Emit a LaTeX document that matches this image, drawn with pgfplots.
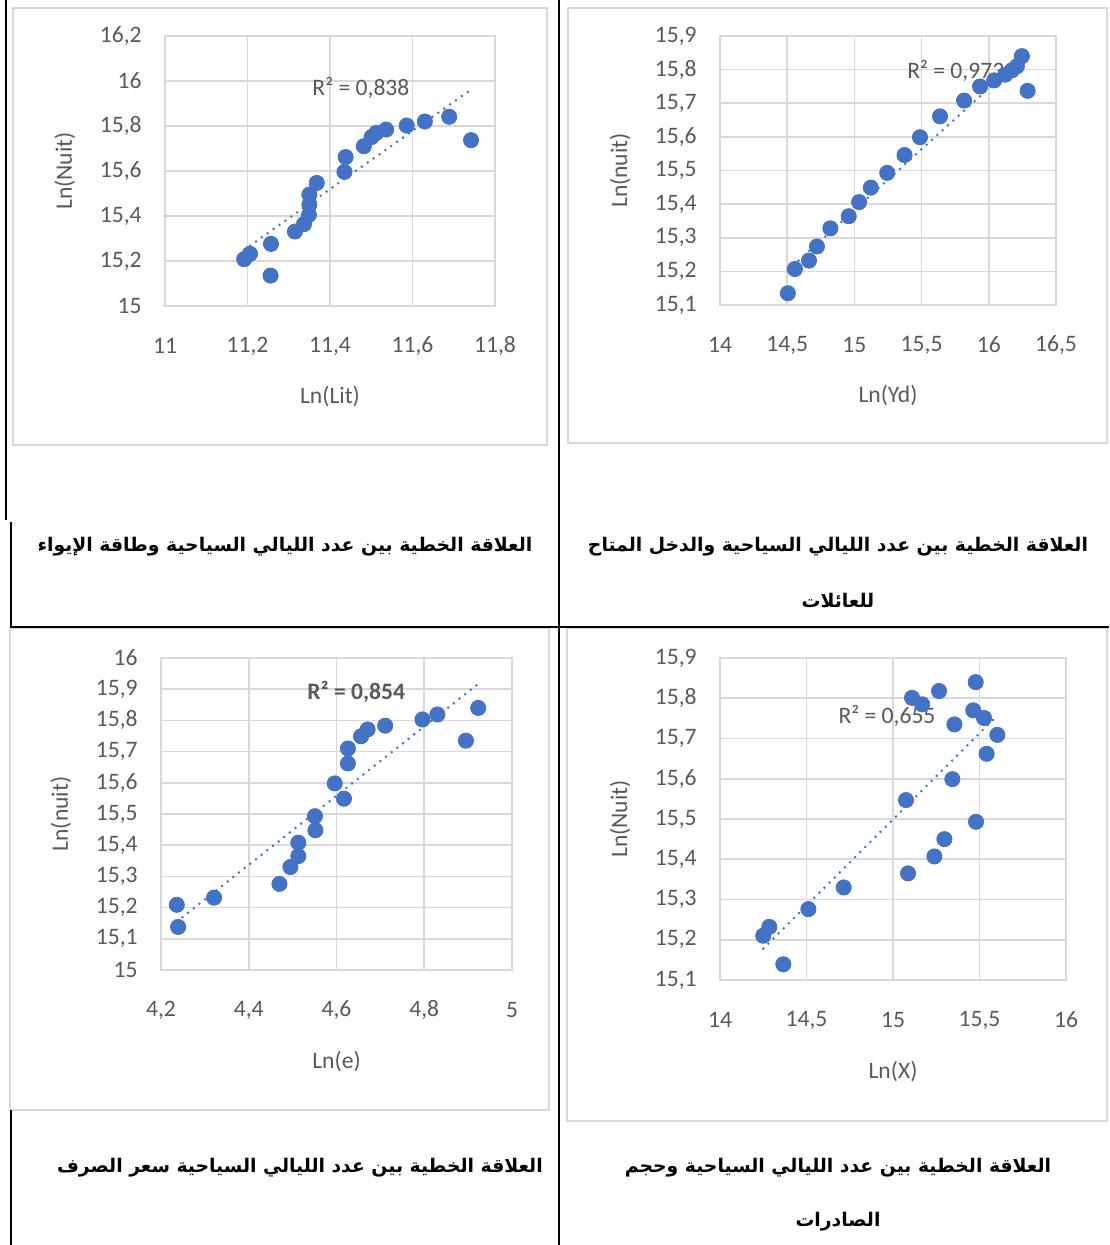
\documentclass[border=0pt]{standalone}
\usepackage{pgfplots}
\pgfplotsset{compat=1.18}
\usepackage{fontspec}
\setmainfont{Carlito}
\newfontfamily\arabicfont[Script=Arabic]{DejaVu Sans}
\TeXXeTstate=1
\definecolor{xblue}{HTML}{4472C4}
\definecolor{gridc}{HTML}{D9D9D9}
\definecolor{labc}{HTML}{595959}
\tikzset{rlab/.style={font=\fontsize{11.8}{14}\selectfont, text=labc, inner sep=0pt}}
\pgfplotsset{
  excel/.style={
    scale only axis,
    anchor=south west,
    axis line style={draw=gridc, line width=0.8pt},
    grid=major,
    major grid style={draw=gridc, line width=0.8pt},
    major tick length=0pt,
    tick style={draw=none},
    ticklabel style={font=\fontsize{11.8}{14}\selectfont, text=labc, inner sep=0pt},
    xticklabel style={anchor=center, yshift=-20pt},
    yticklabel style={anchor=east, xshift=-11.5pt},
    /pgf/number format/fixed,
    /pgf/number format/precision=1,
    /pgf/number format/use comma,
    /pgf/number format/assume math mode=true,
    every axis x label/.style={at={(axis description cs:0.5,0)}, anchor=center, yshift=-45.5pt, font=\fontsize{11.8}{14}\selectfont, text=labc},
    every axis y label/.style={at={(axis description cs:0,0.5)}, xshift=-50pt, rotate=90, anchor=center, font=\fontsize{11.8}{14}\selectfont, text=labc},
  },
  pts/.style={only marks, mark=*, mark size=3.8pt, color=xblue, mark options={draw=xblue, fill=xblue}},
  trend/.style={xblue, line width=1.4pt, dash pattern=on 0pt off 3.6pt, line cap=round, mark=none},
}
\begin{document}
\begin{tikzpicture}
\useasboundingbox (0,0) rectangle (554.5pt,-622.5pt);
% chart frames
\draw[gridc, line width=0.8pt] (6.5pt,-4pt) rectangle (273.5pt,-222.5pt);
\draw[gridc, line width=0.8pt] (284pt,-4pt) rectangle (553.5pt,-221.5pt);
\draw[gridc, line width=0.8pt] (5pt,-314pt) rectangle (274.5pt,-555pt);
\draw[gridc, line width=0.8pt] (283.5pt,-314pt) rectangle (553.5pt,-560.5pt);
% table lines
\draw[black, line width=1pt] (3pt,0pt) -- (3pt,-260pt);
\draw[black, line width=1pt] (5.25pt,-261pt) -- (5.25pt,-313.5pt);
\draw[black, line width=0.6pt] (5pt,-313.5pt) -- (554.5pt,-313.5pt);
\draw[black, line width=1pt] (279.5pt,0pt) -- (279.5pt,-622.5pt);
\draw[black, line width=1pt] (5.5pt,-555pt) -- (5.5pt,-622.5pt);

% Panel 1: top-left
\begin{axis}[excel, at={(82.5pt,-153pt)}, width=165pt, height=135pt,
  xmin=11, xmax=11.8, ymin=15, ymax=16.2,
  xtick={11,11.2,11.4,11.6,11.8}, ytick={15,15.2,15.4,15.6,15.8,16,16.2},
  xlabel={Ln(Lit)}, ylabel={Ln(Nuit)}]
\node[rlab] at (axis cs:11.475,15.969) {R² = 0,838};
\addplot[trend] coordinates {(11.192,15.250) (11.742,15.962)};
\addplot[pts] coordinates {
(11.192,15.208) (11.206,15.232) (11.257,15.276) (11.256,15.135)
(11.315,15.331) (11.337,15.364) (11.349,15.405) (11.350,15.450)
(11.350,15.495) (11.368,15.547) (11.435,15.596) (11.438,15.662)
(11.482,15.710) (11.501,15.751) (11.512,15.769) (11.536,15.784)
(11.586,15.802) (11.630,15.820) (11.689,15.841) (11.742,15.737)};
\end{axis}

% Panel 2: top-right
\begin{axis}[excel, at={(360pt,-152.5pt)}, width=168pt, height=134.5pt,
  xmin=14, xmax=16.5, ymin=15.1, ymax=15.9,
  xtick={14,14.5,15,15.5,16,16.5}, ytick={15.1,15.2,15.3,15.4,15.5,15.6,15.7,15.8,15.9},
  xlabel={Ln(Yd)}, ylabel={Ln(nuit)}]
\node[rlab] at (axis cs:15.754,15.796) {R² = 0,973};
\addplot[trend] coordinates {(14.505,15.203) (16.289,15.849)};
\addplot[pts] coordinates {
(14.505,15.135) (14.557,15.207) (14.662,15.232) (14.721,15.274)
(14.821,15.328) (14.958,15.364) (15.035,15.406) (15.122,15.449)
(15.244,15.493) (15.373,15.546) (15.488,15.599) (15.637,15.661)
(15.816,15.708) (15.935,15.750) (16.040,15.768) (16.122,15.785)
(16.172,15.798) (16.209,15.810) (16.246,15.840) (16.289,15.737)};
\end{axis}

% Panel 3: bottom-left
\begin{axis}[excel, at={(80.5pt,-485pt)}, width=175.5pt, height=156pt,
  xmin=4.2, xmax=5, ymin=15, ymax=16,
  xtick={4.2,4.4,4.6,4.8,5}, ytick={15,15.1,15.2,15.3,15.4,15.5,15.6,15.7,15.8,15.9,16},
  xlabel={Ln(e)}, ylabel={Ln(nuit)}]
\node[rlab, font=\fontsize{11.8}{14}\selectfont\bfseries] at (axis cs:4.645,15.891) {R² = 0,854};
\addplot[trend] coordinates {(4.236,15.155) (4.923,15.917)};
\addplot[pts] coordinates {
(4.236,15.209) (4.239,15.138) (4.321,15.232) (4.470,15.276)
(4.495,15.330) (4.513,15.365) (4.513,15.408) (4.552,15.448)
(4.551,15.493) (4.617,15.549) (4.596,15.598) (4.626,15.662)
(4.626,15.710) (4.656,15.749) (4.671,15.771) (4.711,15.783)
(4.796,15.803) (4.830,15.819) (4.895,15.735) (4.923,15.840)};
\end{axis}

% Panel 4: bottom-right
\begin{axis}[excel, at={(360pt,-490pt)}, width=173pt, height=161pt,
  xmin=14, xmax=16, ymin=15.1, ymax=15.9,
  xtick={14,14.5,15,15.5,16}, ytick={15.1,15.2,15.3,15.4,15.5,15.6,15.7,15.8,15.9},
  xlabel={Ln(X)}, ylabel={Ln(Nuit)}]
\node[rlab] at (axis cs:14.965,15.756) {R² = 0,655};
\addplot[trend] coordinates {(14.250,15.178) (15.603,15.757)};
\addplot[pts] coordinates {
(14.250,15.210) (14.285,15.232) (14.366,15.139) (14.511,15.276)
(14.715,15.330) (15.087,15.365) (15.239,15.407) (15.297,15.450)
(15.480,15.493) (15.075,15.547) (15.343,15.599) (15.541,15.662)
(15.603,15.709) (15.526,15.751) (15.464,15.770) (15.355,15.735)
(15.110,15.801) (15.168,15.785) (15.266,15.818) (15.478,15.840)};
\end{axis}

% captions
\begin{scope}[every node/.style={font=\arabicfont\bfseries\fontsize{9.4}{12}\selectfont, inner sep=0pt, anchor=center}]
\node at (142.5pt,-273.5pt) {\beginR العلاقة الخطية بين عدد الليالي السياحية وطاقة الإيواء\endR};
\node at (419pt,-273.5pt) {\beginR العلاقة الخطية بين عدد الليالي السياحية والدخل المتاح\endR};
\node at (419pt,-300pt) {\beginR للعائلات\endR};
\node at (150pt,-584pt) {\beginR العلاقة الخطية بين عدد الليالي السياحية سعر الصرف\endR};
\node at (419pt,-584pt) {\beginR العلاقة الخطية بين عدد الليالي السياحية وحجم\endR};
\node at (419pt,-611pt) {\beginR الصادرات\endR};
\end{scope}
\end{tikzpicture}
\end{document}
